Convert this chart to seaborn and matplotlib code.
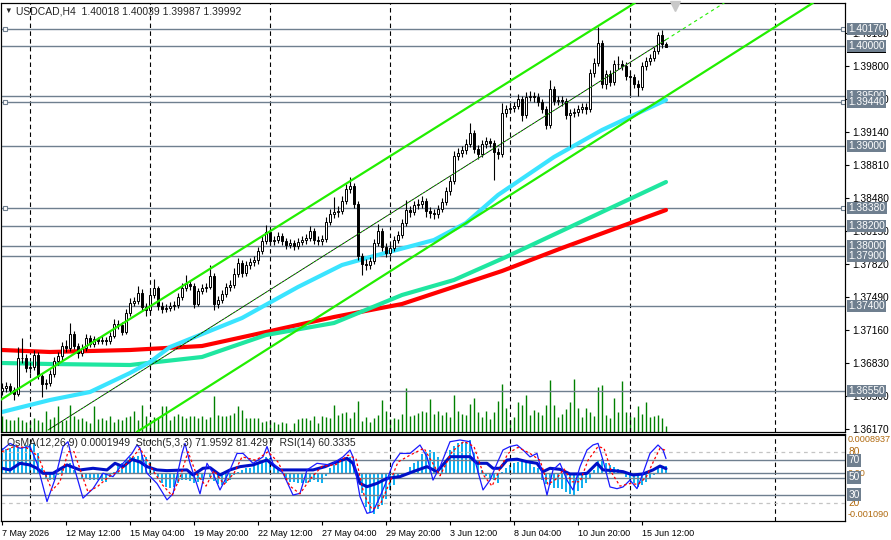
import numpy as np
import pandas as pd
import seaborn as sns
import matplotlib.pyplot as plt
from matplotlib.ticker import FormatStrFormatter

sns.set_theme(style="white")
plt.rcParams["font.family"] = ["Liberation Sans", "DejaVu Sans"]

# ---------------- data ----------------
TITLE = "USDCAD,H4  1.40018 1.40039 1.39987 1.39992"
IND_TITLE = "OsMA(12,26,9) 0.0001949  Stoch(5,3,3) 71.9592 81.4297  RSI(14) 60.3335"

first_open = 1.3655
close = [1.3658, 1.3660, 1.3656, 1.3652, 1.3688, 1.3688, 1.3678, 1.3679, 1.3691, 1.3670,
         1.3662, 1.3663, 1.3672, 1.3685, 1.3690, 1.3700, 1.3698, 1.3712, 1.3700, 1.3693,
         1.3698, 1.3708, 1.3702, 1.3707, 1.3705, 1.3706, 1.3705, 1.3710, 1.3722, 1.3721,
         1.3714, 1.3733, 1.3743, 1.3745, 1.3753, 1.3739, 1.3736, 1.3751, 1.3758, 1.3740,
         1.3737, 1.3738, 1.3740, 1.3741, 1.3749, 1.3758, 1.3762, 1.3760, 1.3742, 1.3755,
         1.3758, 1.3759, 1.3770, 1.3742, 1.3746, 1.3752, 1.3759, 1.3761, 1.3772, 1.3783,
         1.3773, 1.3781, 1.3784, 1.3786, 1.3795, 1.3805, 1.3814, 1.3805, 1.3806, 1.3810,
         1.3805, 1.3801, 1.3803, 1.3800, 1.3804, 1.3806, 1.3808, 1.3815, 1.3806, 1.3805,
         1.3807, 1.3824, 1.3832, 1.3834, 1.3835, 1.3845, 1.3857, 1.3860, 1.3842, 1.3790,
         1.3782, 1.3781, 1.3785, 1.3803, 1.3815, 1.3799, 1.3793, 1.3798, 1.3806, 1.3811,
         1.3823, 1.3836, 1.3834, 1.3841, 1.3842, 1.3845, 1.3835, 1.3833, 1.3832, 1.3837,
         1.3844, 1.3855, 1.3865, 1.3890, 1.3893, 1.3896, 1.3902, 1.3913, 1.3897, 1.3892,
         1.3902, 1.3905, 1.3903, 1.3894, 1.3892, 1.3933, 1.3937, 1.3938, 1.3940, 1.3947,
         1.3931, 1.3949, 1.3950, 1.3949, 1.3944, 1.3937, 1.3921, 1.3957, 1.3945, 1.3946,
         1.3945, 1.3931, 1.3933, 1.3934, 1.3937, 1.3939, 1.3937, 1.3973, 1.3983, 1.4003,
         1.3962, 1.3972, 1.3964, 1.3982, 1.3982, 1.3980, 1.3970, 1.3969, 1.3962, 1.3959,
         1.3980, 1.3985, 1.3988, 1.3995, 1.4011, 1.40018, 1.39992]
high = [1.3663, 1.3664, 1.3663, 1.3659, 1.3699, 1.3708, 1.3692, 1.3684, 1.3696, 1.3694,
        1.3672, 1.3667, 1.3676, 1.3689, 1.3694, 1.3704, 1.3706, 1.3723, 1.3715, 1.3703,
        1.3702, 1.3712, 1.3711, 1.3710, 1.3709, 1.3710, 1.3709, 1.3714, 1.3727, 1.3726,
        1.3724, 1.3737, 1.3748, 1.3749, 1.3760, 1.3757, 1.3743, 1.3755, 1.3767, 1.3760,
        1.3744, 1.3742, 1.3744, 1.3745, 1.3753, 1.3763, 1.3771, 1.3766, 1.3763, 1.3758,
        1.3762, 1.3763, 1.3781, 1.3773, 1.3750, 1.3756, 1.3763, 1.3766, 1.3778, 1.3788,
        1.3786, 1.3785, 1.3788, 1.3790, 1.3799, 1.3810, 1.3821, 1.3817, 1.3810, 1.3814,
        1.3813, 1.3808, 1.3807, 1.3806, 1.3808, 1.3810, 1.3812, 1.3820, 1.3818, 1.3810,
        1.3811, 1.3829, 1.3837, 1.3849, 1.3840, 1.3850, 1.3862, 1.3869, 1.3863, 1.3845,
        1.3793, 1.3787, 1.3789, 1.3807, 1.3822, 1.3818, 1.3803, 1.3802, 1.3810, 1.3815,
        1.3827, 1.3846, 1.3840, 1.3845, 1.3847, 1.3850, 1.3848, 1.3839, 1.3837, 1.3841,
        1.3848, 1.3859, 1.3870, 1.3895, 1.3898, 1.3900, 1.3907, 1.3923, 1.3916, 1.3901,
        1.3906, 1.3909, 1.3908, 1.3906, 1.3898, 1.3943, 1.3941, 1.3942, 1.3944, 1.3952,
        1.3950, 1.3954, 1.3955, 1.3954, 1.3953, 1.3947, 1.3940, 1.3966, 1.3960, 1.3950,
        1.3950, 1.3948, 1.3937, 1.3938, 1.3941, 1.3943, 1.3943, 1.3977, 1.3988, 1.4019,
        1.4006, 1.3976, 1.3976, 1.3986, 1.3990, 1.3986, 1.3984, 1.3975, 1.3972, 1.3966,
        1.3984, 1.3989, 1.3992, 1.3999, 1.4014, 1.4016, 1.40039]
low = [1.3651, 1.3654, 1.3652, 1.3646, 1.3650, 1.3683, 1.3674, 1.3673, 1.3676, 1.3667,
       1.3649, 1.3657, 1.3660, 1.3669, 1.3681, 1.3686, 1.3694, 1.3695, 1.3697, 1.3688,
       1.3690, 1.3695, 1.3699, 1.3699, 1.3702, 1.3702, 1.3701, 1.3702, 1.3708, 1.3717,
       1.3711, 1.3712, 1.3730, 1.3740, 1.3742, 1.3735, 1.3730, 1.3733, 1.3748, 1.3736,
       1.3733, 1.3734, 1.3735, 1.3736, 1.3738, 1.3746, 1.3755, 1.3756, 1.3738, 1.3740,
       1.3752, 1.3754, 1.3757, 1.3736, 1.3738, 1.3743, 1.3749, 1.3755, 1.3758, 1.3769,
       1.3769, 1.3770, 1.3777, 1.3780, 1.3782, 1.3792, 1.3802, 1.3801, 1.3801, 1.3803,
       1.3801, 1.3797, 1.3798, 1.3796, 1.3797, 1.3801, 1.3802, 1.3805, 1.3802, 1.3801,
       1.3801, 1.3804, 1.3821, 1.3828, 1.3829, 1.3832, 1.3842, 1.3853, 1.3838, 1.3786,
       1.3771, 1.3776, 1.3777, 1.3782, 1.3800, 1.3795, 1.3789, 1.3790, 1.3795, 1.3803,
       1.3808, 1.3820, 1.3829, 1.3831, 1.3837, 1.3838, 1.3829, 1.3828, 1.3827, 1.3828,
       1.3834, 1.3841, 1.3851, 1.3862, 1.3886, 1.3889, 1.3892, 1.3899, 1.3893, 1.3887,
       1.3889, 1.3898, 1.3899, 1.3866, 1.3887, 1.3889, 1.3929, 1.3933, 1.3934, 1.3937,
       1.3925, 1.3928, 1.3945, 1.3944, 1.3940, 1.3933, 1.3917, 1.3918, 1.3941, 1.3941,
       1.3940, 1.3927, 1.3899, 1.3929, 1.3930, 1.3933, 1.3932, 1.3934, 1.3969, 1.3980,
       1.3958, 1.3957, 1.3960, 1.3961, 1.3977, 1.3976, 1.3966, 1.3951, 1.3958, 1.3950,
       1.3956, 1.3976, 1.3981, 1.3985, 1.3992, 1.3998, 1.39987]
volume = [16, 13, 12, 12, 15, 12, 10, 11, 14, 12,
          10, 21, 13, 15, 26, 11, 12, 27, 16, 13,
          14, 11, 9, 26, 13, 14, 12, 16, 10, 13,
          12, 15, 16, 21, 12, 27, 16, 12, 15, 14,
          26, 26, 12, 16, 18, 16, 14, 16, 16, 14,
          16, 13, 15, 36, 17, 16, 16, 17, 19, 26,
          22, 14, 14, 14, 14, 10, 11, 12, 10, 8,
          10, 9, 2, 9, 13, 14, 14, 12, 16, 9,
          16, 15, 14, 27, 17, 19, 20, 14, 20, 31,
          11, 15, 10, 14, 17, 32, 21, 13, 14, 13,
          18, 44, 16, 17, 19, 21, 20, 33, 18, 21,
          17, 20, 15, 37, 21, 18, 17, 28, 34, 20,
          15, 21, 13, 20, 31, 48, 24, 12, 15, 30,
          27, 37, 17, 22, 20, 17, 27, 52, 27, 15,
          18, 23, 30, 53, 24, 15, 24, 20, 16, 45,
          47, 17, 14, 34, 20, 51, 20, 16, 15, 26,
          18, 30, 15, 16, 17, 14, 6]

# moving averages (candle index, price)
ma_cyan_idx = [0, 5, 12, 22, 32, 37, 42, 60, 74, 85, 93, 108, 116, 124, 138, 150, 158, 166]
ma_cyan = [1.3634, 1.3639, 1.3646, 1.3654, 1.3673, 1.3684, 1.3699, 1.3728, 1.3759, 1.3781,
           1.3790, 1.3806, 1.3823, 1.3851, 1.3889, 1.3916, 1.3931, 1.3946]
ma_green_idx = [0, 12, 32, 50, 66, 83, 100, 113, 126, 166]
ma_green = [1.3683, 1.3682, 1.3681, 1.3689, 1.3711, 1.3723, 1.3751, 1.3766, 1.3789, 1.3864]
ma_red_idx = [0, 12, 32, 50, 66, 83, 100, 125, 140, 166]
ma_red = [1.3696, 1.3694, 1.3696, 1.3700, 1.3714, 1.3729, 1.3742, 1.3775, 1.3798, 1.3836]

# channel trend lines: two anchor points each (candle index, price)
chan_upper = [(0, 1.3647), (157, 1.4040)]
chan_lower = [(34.5, 1.3616), (99.5, 1.3781)]
chan_mid = [(11.5, 1.3616), (82.75, 1.3796)]

hlines = [1.4017, 1.4000, 1.3950, 1.3944, 1.3900, 1.3838, 1.3820, 1.3800, 1.3790, 1.3740, 1.3655]
hline_marked = [1.4017, 1.3944, 1.3838]
price_ticks = [1.3617, 1.3650, 1.3683, 1.3716, 1.3749, 1.3782, 1.3815, 1.3848,
               1.3881, 1.3914, 1.3947, 1.3980, 1.4013]

# OsMA histogram (x 1e-4)
osma = [6.7, 6.4, 6.7, 7.6, 7.1, 7.1, 7.6, 7.9, 8.0, 5.4,
        1.3, -1.3, -1.8, -1.8, -0.4, 1.3, 2.2, 2.7, 0.9, 0.2,
        -1.3, -1.6, -1.8, -1.8, -1.8, -2.0, -2.2, -0.9, 0.4, 2.0,
        2.7, 3.6, 4.3, 4.5, 4.6, 4.9, 4.5, 3.1, 0.9, -0.9,
        -2.7, -3.6, -4.0, -3.6, -2.7, -1.8, -1.8, -2.0, -2.7, -2.2,
        -1.8, -0.2, -0.9, -2.0, -2.9, -3.1, -2.7, -1.8, -0.4, 0.4,
        0.9, 1.3, 1.3, 2.7, 3.1, 3.6, 4.5, 4.0, 1.8, 0.9,
        0.0, -1.8, -2.2, -2.2, -2.5, -2.7, -2.5, -2.2, -1.8, -2.2,
        -2.7, -0.7, 1.3, 2.2, 3.1, 3.8, 4.0, 4.5, 3.4, -1.8,
        -5.4, -8.9, -10.7, -10.9, -9.6, -8.5, -7.0, -4.5, -3.1, -1.3,
        -0.9, 0.0, 1.8, 2.7, 3.6, 5.2, 5.8, 6.3, 5.8, 4.5,
        1.3, 3.0, 6.3, 7.3, 8.0, 8.3, 8.5, 8.9, 5.8, 3.6,
        0.9, -0.7, -1.3, -1.8, -2.7, 0.4, 1.3, 2.2, 2.7, 3.1,
        3.4, 3.6, 3.6, 1.8, 1.3, -1.8, -2.9, -3.1, -3.8, -4.0,
        -4.2, -4.9, -5.5, -5.8, -4.7, -4.0, -2.7, -1.3, 0.9, 3.6,
        3.8, 2.7, 2.2, 1.6, 1.1, 0.2, -0.9, -1.8, -2.7, -3.6,
        -3.1, -2.2, -1.3, -0.4, 1.3, 1.8, 1.9]

stoch_idx = [0, 2, 4.5, 7, 8.75, 11.25, 13.25, 15.25, 16.5, 17.75, 20.25, 22.75, 25.25, 27.75,
             30.25, 32.5, 33.75, 34.5, 36.25, 38.75, 41.25, 42.75, 45, 45.75, 47, 49.5, 51.25,
             52.75, 54.5, 57, 58.75, 60.25, 62.75, 65.25, 66.25, 67.75, 70.25, 72.75, 74.5,
             76.25, 78.75, 82, 82.75, 85.25, 87, 87.75, 89.5, 91.25, 92.75, 94.5, 96.25, 97.75,
             99.5, 102, 104.5, 106.25, 107.75, 109.5, 112, 114.5, 117, 117.75, 120.25, 122,
             123.75, 125.25, 127, 128.75, 130.25, 132, 133.75, 135, 136.25, 137.75, 139.5,
             141.25, 142.75, 144.5, 146.25, 147.75, 149, 150.25, 152, 153.75, 155.25, 157,
             158.75, 160.25, 162, 164, 165.25, 166]
stoch_main = [82, 89.7, 84, 86, 66.5, 22, 48, 86, 91.6, 66.5, 26, 37, 55, 51,
              66.5, 78, 87.8, 84, 55, 43, 24, 31, 78, 89.7, 66.5, 31, 66.5,
              55, 35.5, 58.8, 78, 78, 66.5, 74, 86, 66.5, 55, 29.6, 31.6,
              58.8, 66.5, 64.6, 66.5, 74, 82, 74, 27.7, 8.3, 10.3, 27.7, 47, 66.5,
              78, 78, 87.8, 74, 47, 62.5, 91.6, 93.6, 91.6, 78, 35.5, 47,
              66.5, 82, 86, 87.8, 82, 74, 78, 55, 29.6, 58.8, 66.5,
              47, 35.5, 62.5, 82, 87.8, 89.7, 70, 39, 37, 39, 47,
              37, 55, 78, 87.8, 82, 71.96]
signal_idx = [0, 3, 6, 9, 12.5, 14.5, 16.5, 18, 21.5, 24, 27, 29.5, 32, 34.5, 37.5, 40, 42.5,
              44.5, 46.5, 48.5, 51, 53, 55.5, 58, 60, 63.5, 66.5, 69, 72, 74.5, 77, 80, 83.5,
              86.5, 88.5, 90.5, 92.5, 94.5, 97, 99, 102, 105.5, 107.5, 109.5, 112.5, 115.5,
              118, 120.5, 122.5, 124.5, 126.5, 129, 132, 134.5, 136.5, 138.5, 140.5, 142.5,
              144.5, 146.5, 149, 150.5, 152.5, 154.5, 157, 159, 161, 163, 164.5, 166]
stoch_signal = [80, 86, 85, 75, 35, 45, 80, 80, 33, 40, 52, 58, 70, 84, 60, 42, 29,
                50, 80, 55, 40, 58, 42, 55, 74, 70, 80, 68, 40, 31, 48, 63, 65,
                76, 72, 30, 13, 18, 45, 68, 76, 84, 68, 52, 80, 92,
                86, 52, 40, 60, 78, 85, 78, 70, 42, 48, 60, 45,
                45, 70, 86, 84, 55, 40, 43, 42, 50, 70, 84, 81.43]
rsi_idx = [0, 2, 4.5, 7, 8.75, 10.25, 12.75, 16.25, 19.5, 22.75, 26.25, 28.25, 30.25, 32.5,
           34.5, 36.25, 38.75, 41.25, 46.25, 47.75, 50.25, 52, 54.5, 57, 59.5, 62.75, 66.25,
           67.75, 69.5, 71.25, 74.5, 77.75, 80.75, 82.75, 86.25, 87.75, 89.5, 91.25, 93.75,
           96.25, 99.5, 102.75, 106.25, 108.75, 112, 114.5, 117, 118.75, 121.25, 122.75,
           124.5, 126.25, 128.75, 131.25, 133.75, 135.25, 137, 139.5, 142, 144.5, 146.25,
           148.75, 150.25, 152.75, 155.25, 157.75, 160.25, 162.75, 164.5, 166]
rsi = [60.7, 58.8, 66.5, 64.6, 60.7, 54.9, 54.9, 64.6, 58.8, 60.7, 58.8, 66.5, 62.6, 71,
       68, 62.6, 58.8, 58, 58.8, 52.9, 60.7, 61.5, 52.9, 58.8, 62.6, 64.6, 70.4,
       64.6, 58.8, 58.8, 58.8, 58.8, 62.6, 66.5, 72.3, 66.5, 43.2, 39.3, 43.2,
       49, 51, 56.8, 62.6, 56.8, 74.2, 74.2, 74.2, 66.5, 66.5, 60.7,
       60.7, 70.3, 71.3, 68.4, 66.5, 56.8, 60.7, 59.5, 54.1, 54.1, 54.9,
       66.5, 58.8, 58, 56.8, 52.9, 54.1, 58.8, 63.3, 60.3]

date_idx = [0, 16, 32, 48, 64, 80, 96, 112, 128, 144, 160]
date_labels = ["7 May 2026", "12 May 12:00", "15 May 04:00", "19 May 20:00", "22 May 12:00",
               "27 May 04:00", "29 May 20:00", "3 Jun 12:00", "8 Jun 04:00", "10 Jun 20:00",
               "15 Jun 12:00"]
grid_idx = [7, 37, 67, 97, 127, 157, 193.25]

# ---------------- figure ----------------
SLATE = "#6f7f8f"
ORANGE = "#b06a10"
W, H = 891, 540
XLIM = (-0.25, 210.75)


def rect(x0, y0, x1, y1):
    return [x0 / W, 1 - y1 / H, (x1 - x0) / W, (y1 - y0) / H]


def box_label(axis, y, text, fc=SLATE, color="white"):
    axis.annotate(text, xy=(1, y), xycoords=("axes fraction", "data"), xytext=(2.5, 0),
                  textcoords="offset points", ha="left", va="center", fontsize=7.3,
                  color=color, annotation_clip=False, zorder=10,
                  bbox=dict(boxstyle="square,pad=0.12", fc=fc, ec="none"))


fig = plt.figure(figsize=(8.91, 5.4), dpi=100)
ax_vol = fig.add_axes(rect(1, 3, 845, 432))
ax = ax_vol.twinx()
ax_os = fig.add_axes(rect(1, 434.5, 845, 520.5))
ax_ind = ax_os.twinx()

df = pd.DataFrame({"close": close, "high": high, "low": low, "volume": volume})
df["open"] = [first_open] + close[:-1]
df["idx"] = np.arange(len(df))
up = df[df["close"] >= df["open"]]
dn = df[df["close"] < df["open"]]

# volume + grid (bottom layer)
ax_vol.vlines(df["idx"], 0, df["volume"], color="#008000", lw=1)
for g in grid_idx:
    ax_vol.axvline(g, color="black", lw=0.8, ls=(0, (4, 3)))
    ax_os.axvline(g, color="black", lw=0.8, ls=(0, (4, 3)))
ax_vol.set_ylim(0, 429)

# horizontal levels
for p in hlines:
    ax.axhline(p, color=SLATE, lw=1, zorder=1)
for p in hline_marked:
    ax.plot([0.75, 210.25], [p, p], ls="none", marker="s", ms=3.5, mfc="white",
            mec=SLATE, mew=0.8, zorder=2, clip_on=False)

# moving averages
sns.lineplot(x=ma_red_idx, y=ma_red, ax=ax, color="#ff0000", lw=3, zorder=2)
sns.lineplot(x=ma_green_idx, y=ma_green, ax=ax, color="#1fe6a0", lw=3, zorder=2)
sns.lineplot(x=ma_cyan_idx, y=ma_cyan, ax=ax, color="#3ae4ff", lw=3, zorder=2)

# candles
ax.vlines(df["idx"], df["low"], df["high"], color="black", lw=0.8, zorder=3)
ax.bar(up["idx"], (up["close"] - up["open"]).clip(lower=0.00002), bottom=up["open"],
       width=0.62, color="white", edgecolor="black", lw=0.7, zorder=3)
ax.bar(dn["idx"], dn["open"] - dn["close"], bottom=dn["close"],
       width=0.62, color="black", edgecolor="black", lw=0.7, zorder=3)

# channel
ax.axline(*chan_upper, color="#22ee00", lw=1.6, zorder=4)
ax.axline(*chan_lower, color="#22ee00", lw=1.6, zorder=4)
(i1, p1), (i2, p2) = chan_mid
slope = (p2 - p1) / (i2 - i1)
last = len(df) - 1
mid_x = [i1, last]
mid_y = [p1, p1 + slope * (last - i1)]
ax.plot(mid_x, mid_y, color="black", lw=0.6, zorder=4)
ax.plot(mid_x, mid_y, color="#22ee00", lw=0.6, ls=(0, (2, 3)), zorder=4)
ax.plot([last, XLIM[1]], [mid_y[1], mid_y[1] + slope * (XLIM[1] - last)],
        color="#22ee00", lw=0.8, ls=(0, (3, 3)), zorder=4)

ax.plot([168.25], [1.40405], marker="v", color="#c8c8c8", ms=7, clip_on=False, zorder=5)

ax.set_xlim(*XLIM)
ax.set_ylim(1.3614, 1.4043)
ax.set_yticks(price_ticks)
ax.yaxis.set_major_formatter(FormatStrFormatter("%.5f"))
ax.tick_params(axis="y", right=True, labelright=True, direction="out", length=3,
               width=0.8, labelsize=7.3, pad=2, colors="black")
ax.set_xticks([])
ax_vol.set_yticks([])
ax.set_xlabel("")
ax.set_ylabel("")

# boxed labels of the level lines + bid marker
box_label(ax, close[-1], f"{close[-1]:.5f}", fc="black")
for p in hlines:
    box_label(ax, p, f"{p:.5f}")

# ---------------- indicator panel ----------------
ax_os.bar(df["idx"], np.array(osma) * 1e-4, width=0.7, color="#12b0f0", lw=0)
ax_os.axhline(0, color=SLATE, lw=1)
ax_os.set_ylim(-0.001264, 0.001041)
ax_os.set_xlim(*XLIM)
ax_os.set_yticks([])

for lv in (80, 20):
    ax_ind.axhline(lv, color="#c4c4c4", lw=0.9, ls=(0, (3, 3)))
for lv in (70, 50, 30):
    ax_ind.axhline(lv, color=SLATE, lw=1)
sns.lineplot(x=rsi_idx, y=rsi, ax=ax_ind, color="#0010c8", lw=2.2)
sns.lineplot(x=stoch_idx, y=stoch_main, ax=ax_ind, color="#1a1aff", lw=0.9)
ax_ind.plot(signal_idx, stoch_signal, color="#ff0000", lw=0.9, ls=(0, (2, 2)))
ax_ind.set_ylim(0, 100)
ax_ind.set_yticks([])
ax_ind.tick_params(right=False)
ax_ind.set_xlabel("")
ax_ind.set_ylabel("")

for v, t in [(0.0008937, "0.0008937"), (-0.00109, "-0.001090"), (0, "0.00")]:
    ax_os.annotate(t, xy=(1, v), xycoords=("axes fraction", "data"), xytext=(2, 0),
                   textcoords="offset points", ha="left", va="center", fontsize=6.6,
                   color=ORANGE, annotation_clip=False)
for lv in (80, 20):
    ax_ind.annotate(str(lv), xy=(1, lv), xycoords=("axes fraction", "data"), xytext=(2.5, 0),
                    textcoords="offset points", ha="left", va="center", fontsize=7.3,
                    color=ORANGE, annotation_clip=False)
for lv in (70, 50, 30):
    box_label(ax_ind, lv, str(lv))

ax_os.set_xticks(date_idx)
ax_os.set_xticklabels(date_labels, ha="left", fontsize=6.5)
ax_os.tick_params(axis="x", bottom=True, direction="out", length=3, width=0.8, pad=3,
                  colors="black")

for a in (ax_vol, ax, ax_os, ax_ind):
    for s in a.spines.values():
        s.set_color("black")
        s.set_linewidth(0.8)

fig.text(4 / W, 1 - 11 / H, "\u25bc", fontsize=5.5, va="center", ha="left")
fig.text(16 / W, 1 - 11 / H, TITLE, fontsize=7.5, va="center", ha="left")
fig.text(7 / W, 1 - 443 / H, IND_TITLE, fontsize=7.5, va="center", ha="left")

fig.savefig("out.png", dpi=100)
